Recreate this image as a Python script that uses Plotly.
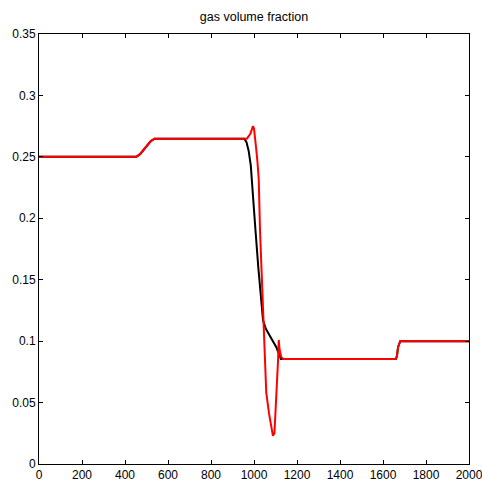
import plotly.graph_objects as go

# Black series (reference solution)
black_x = [0, 453, 470, 495, 520, 538, 955, 965, 975, 985, 995, 1007, 1020, 1034,
           1042, 1055, 1070, 1088, 1104, 1115, 1125, 1660, 1665, 1670, 1676, 1680, 2000]
black_y = [0.25, 0.25, 0.2522, 0.2575, 0.2628, 0.2648, 0.2648, 0.262, 0.255, 0.243,
           0.222, 0.19, 0.16, 0.128, 0.117, 0.110, 0.105, 0.100, 0.095, 0.090, 0.0855,
           0.0855, 0.088, 0.095, 0.099, 0.1, 0.1]

# Red series (oscillating solution)
red_x = [0, 453, 470, 495, 520, 538, 967, 983, 990, 995, 1000, 1004, 1010, 1016, 1022,
         1028, 1040, 1044, 1050, 1057, 1070, 1081, 1088, 1095, 1104, 1112, 1115, 1119,
         1127, 1135, 1660, 1665, 1670, 1676, 1680, 2000]
red_y = [0.25, 0.25, 0.2522, 0.2575, 0.2628, 0.2648, 0.2648, 0.2688, 0.273, 0.275,
         0.273, 0.268, 0.257, 0.246, 0.232, 0.19, 0.13, 0.115, 0.085, 0.058, 0.041,
         0.028, 0.023, 0.025, 0.052, 0.085, 0.101, 0.093, 0.087, 0.0855, 0.0855, 0.088,
         0.095, 0.099, 0.1, 0.1]

x_ticks = [0, 200, 400, 600, 800, 1000, 1200, 1400, 1600, 1800, 2000]
y_ticks = [0, 0.05, 0.1, 0.15, 0.2, 0.25, 0.3, 0.35]
y_tick_text = ["0", "0.05", "0.1", "0.15", "0.2", "0.25", "0.3", "0.35"]

fig = go.Figure()
fig.add_trace(go.Scatter(x=black_x, y=black_y, mode="lines",
                         line=dict(color="black", width=2), showlegend=False))
fig.add_trace(go.Scatter(x=red_x, y=red_y, mode="lines",
                         line=dict(color="#ff0000", width=2), showlegend=False))

axis_common = dict(showline=True, linecolor="black", linewidth=1, mirror="ticks",
                   ticks="inside", ticklen=4, tickcolor="black", showgrid=False,
                   zeroline=False, ticklabeloverflow="allow", automargin=False,
                   tickfont=dict(family="Liberation Sans", size=12, color="black"))

fig.update_xaxes(range=[0, 2000], tickvals=x_ticks, ticktext=[str(v) for v in x_ticks],
                 **axis_common)
fig.update_yaxes(range=[0, 0.35], tickvals=y_ticks, ticktext=y_tick_text, **axis_common)

fig.update_layout(
    width=482, height=493,
    margin=dict(l=39, r=13, t=34, b=29, autoexpand=False),
    paper_bgcolor="white", plot_bgcolor="white",
    title=dict(text="gas volume fraction", x=0.527, xanchor="center",
               y=1 - 17 / 493, yanchor="middle",
               font=dict(family="Liberation Sans", size=12.5, color="black")),
)

fig.write_html("out.html")
